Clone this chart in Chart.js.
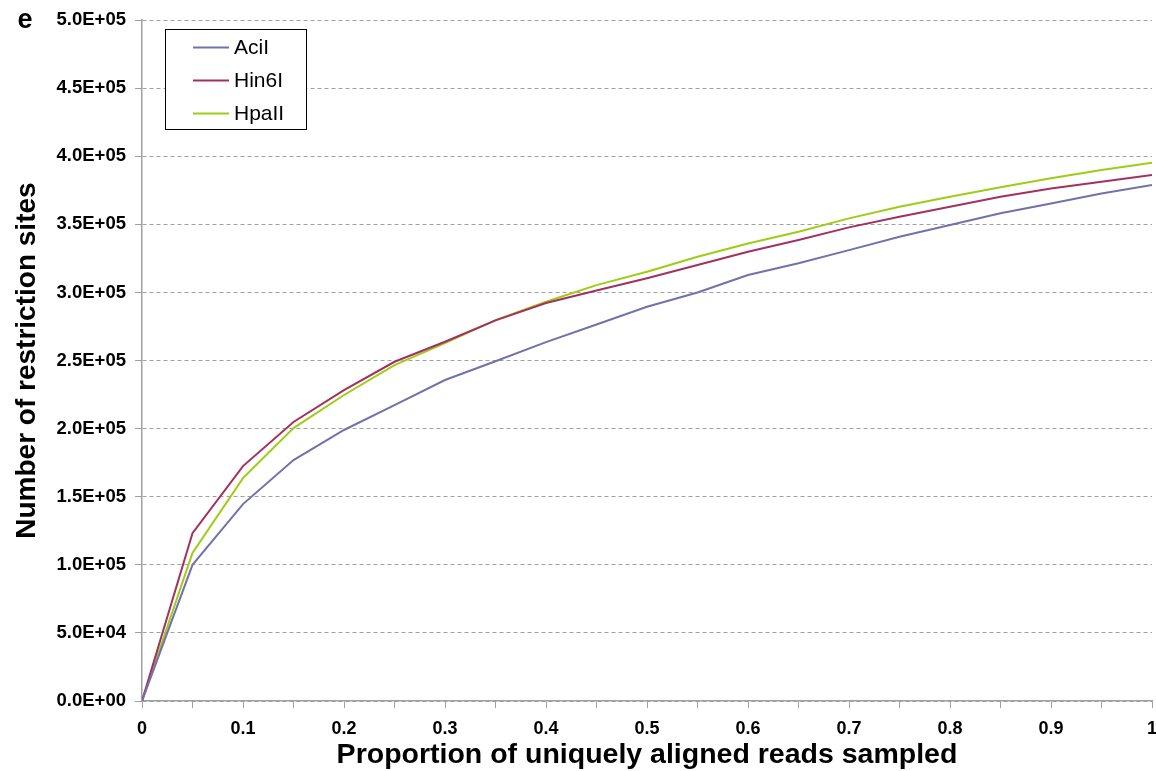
<!DOCTYPE html>
<html>
<head>
<meta charset="utf-8">
<title>Restriction sites</title>
<script src="https://cdn.jsdelivr.net/npm/chart.js@4/dist/chart.umd.min.js"></script>
<style>
  html, body { margin: 0; padding: 0; background: #fff; }
  #wrap { width: 1156px; height: 771px; position: relative; }
</style>
</head>
<body>
<div id="wrap"><canvas id="sitesChart"></canvas></div>
<script>
const proportions = [0, 0.05, 0.1, 0.15, 0.2, 0.25, 0.3, 0.35, 0.4, 0.45, 0.5,
                     0.55, 0.6, 0.65, 0.7, 0.75, 0.8, 0.85, 0.9, 0.95, 1];
const aciI = [0, 100000, 144600, 176900, 199000, 217300, 235700, 249500, 263500, 276500, 289500,
              300000, 312800, 321400, 331100, 340900, 349500, 358100, 365400, 372700, 378900];
const hin6I = [0, 123300, 172500, 204900, 228300, 249100, 263800, 279500, 292200, 301500, 310500,
               320100, 329900, 338500, 347800, 355600, 362900, 370300, 376400, 381300, 386200];
const hpaII = [0, 108700, 163700, 200400, 224700, 246700, 262800, 279700, 293200, 305400, 315200,
               326200, 336000, 344600, 354400, 362900, 370300, 377200, 383800, 389900, 395200];
const enzymes = ['AciI', 'Hin6I', 'HpaII'];
const lineColors = ['#7272aa', '#a3305f', '#9fcc14'];

const FONT = '"Liberation Sans", Arial, sans-serif';

function toPoints(values) {
  return values.map((v, i) => ({ x: proportions[i], y: v }));
}

// 5.0E+05 style labels
function sciLabel(v) {
  if (v === 0) return '0.0E+00';
  const e = Math.floor(Math.log10(v) + 1e-9);
  const m = (v / Math.pow(10, e)).toFixed(1);
  return m + 'E' + (e < 0 ? '-' : '+') + String(Math.abs(e)).padStart(2, '0');
}

// panel letter and boxed legend inside the plot
const overlay = {
  id: 'overlay',
  afterDraw(chart) {
    const ctx = chart.ctx;
    ctx.save();
    ctx.fillStyle = '#000';
    ctx.font = 'bold 27px ' + FONT;
    ctx.textBaseline = 'alphabetic';
    ctx.textAlign = 'center';
    ctx.fillText('e', 25, 28);

    const bx = 165.5, by = 29.5, bw = 141, bh = 100;
    ctx.fillStyle = '#fff';
    ctx.fillRect(bx, by, bw, bh);
    ctx.strokeStyle = '#000';
    ctx.lineWidth = 1;
    ctx.strokeRect(bx, by, bw, bh);

    ctx.font = '21px ' + FONT;
    ctx.textAlign = 'left';
    ctx.textBaseline = 'middle';
    chart.data.datasets.forEach((ds, i) => {
      const y = 47.5 + i * 33;
      ctx.strokeStyle = ds.borderColor;
      ctx.lineWidth = 2;
      ctx.beginPath();
      ctx.moveTo(193, y);
      ctx.lineTo(229, y);
      ctx.stroke();
      ctx.fillStyle = '#000';
      ctx.fillText(ds.label, 234, y + 1);
    });
    ctx.restore();
  }
};

const config = {
  type: 'line',
  data: {
    datasets: enzymes.map((name, i) => ({
      label: name,
      data: toPoints([aciI, hin6I, hpaII][i]),
      borderColor: lineColors[i],
      backgroundColor: lineColors[i],
      borderWidth: 2,
      pointRadius: 0,
      tension: 0,
      fill: false
    }))
  },
  options: {
    responsive: false,
    animation: false,
    layout: { padding: { top: 20, right: 4, left: 0, bottom: 0 } },
    plugins: {
      legend: { display: false },
      tooltip: { enabled: false }
    },
    scales: {
      x: {
        type: 'linear',
        min: 0,
        max: 1,
        afterFit(scale) {
          scale.height = 70;
          scale.paddingLeft = 0;
          scale.paddingRight = 0;
        },
        ticks: {
          stepSize: 0.05,
          padding: 10,
          color: '#000',
          font: { family: FONT, size: 18, weight: 'bold' },
          maxRotation: 0,
          autoSkip: false,
          callback(v) {
            const t = Math.round(v * 100);
            if (t % 10 !== 0) return '';
            return String(t / 100);
          }
        },
        grid: {
          drawOnChartArea: false,
          drawTicks: true,
          tickLength: 7,
          tickColor: '#a0a0a0',
          color: '#a0a0a0'
        },
        border: { color: '#a0a0a0', width: 1.5 },
        title: {
          display: true,
          text: 'Proportion of uniquely aligned reads sampled',
          color: '#000',
          font: { family: FONT, size: 28.5, weight: 'bold', lineHeight: 1.1 },
          padding: { top: 0, bottom: 0 }
        }
      },
      y: {
        min: 0,
        max: 500000,
        afterFit(scale) { scale.width = 142; },
        ticks: {
          stepSize: 50000,
          padding: 9,
          color: '#000',
          font: { family: FONT, size: 18.5, weight: 'bold' },
          callback: v => sciLabel(v)
        },
        grid: {
          color: '#a0a0a0',
          lineWidth: 1,
          tickLength: 7,
          tickColor: '#a0a0a0',
          tickBorderDash: [1, 0]
        },
        border: { color: '#a0a0a0', width: 1.5, dash: [4, 3] },
        title: {
          display: true,
          text: 'Number of restriction sites',
          color: '#000',
          font: { family: FONT, size: 28, weight: 'bold', lineHeight: 1.2 },
          padding: { top: 10, bottom: 0 }
        }
      }
    }
  },
  plugins: [overlay]
};

window.onload = function() {
  const canvas = document.getElementById('sitesChart');
  canvas.width = 1156;
  canvas.height = 771;
  new Chart(canvas.getContext('2d'), config);
};
</script>
</body>
</html>
